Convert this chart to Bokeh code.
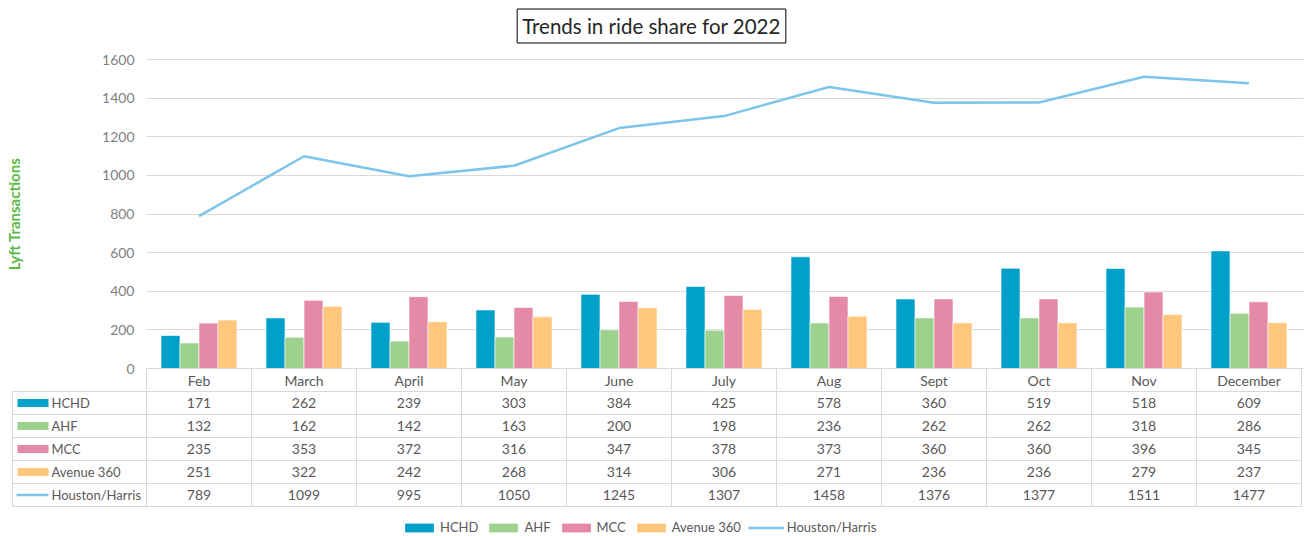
from bokeh.plotting import figure
from bokeh.models import Range1d, FixedTicker, ColumnDataSource, Legend, LegendItem, Label
from bokeh.transform import dodge
from bokeh.embed import file_html
from bokeh.resources import INLINE
from bokeh.core.properties import value

# ---------------- data ----------------
months = ["Feb", "March", "April", "May", "June", "July", "Aug", "Sept", "Oct", "Nov", "December"]
hchd = [171, 262, 239, 303, 384, 425, 578, 360, 519, 518, 609]
ahf = [132, 162, 142, 163, 200, 198, 236, 262, 262, 318, 286]
mcc = [235, 353, 372, 316, 347, 378, 373, 360, 360, 396, 345]
avenue360 = [251, 322, 242, 268, 314, 306, 271, 236, 236, 279, 237]
houston_harris = [789, 1099, 995, 1050, 1245, 1307, 1458, 1376, 1377, 1511, 1477]
series_names = ["HCHD", "AHF", "MCC", "Avenue 360", "Houston/Harris"]
y_ticks = [0, 200, 400, 600, 800, 1000, 1200, 1400, 1600]
title_text = "Trends in ride share for 2022"
y_label = "Lyft Transactions"

# ---------------- styles / layout constants (pixels) ----------------
FONT_NAME = "Lato"
FONT = value(FONT_NAME)
colors = ["#00A0C8", "#9DD28E", "#E48AA7", "#FFC77E", "#7DC5EA"]
GRID = "#D9D9D9"
TXT = "#595959"
TICK_TXT = "#7F7F7F"
W, H = 1304, 536
PLOT_LEFT = 146          # pixel x of first category boundary
PX = 105.0               # pixels per category
ZERO_Y, TOP_Y = 368, 59  # pixel y of value 0 and of the top tick
U = (y_ticks[-1] - y_ticks[0]) / (ZERO_Y - TOP_Y)   # data units per pixel (y)
ROW = 23 * U             # table row height in data units
n = len(months)
centers = [i + 0.5 for i in range(n)]
bw = 19.0 / PX           # bar width in category units

src = ColumnDataSource(dict(x=centers, hchd=hchd, ahf=ahf, mcc=mcc,
                            avenue=avenue360, houston=houston_harris))

p = figure(width=W, height=H,
           x_range=Range1d(-PLOT_LEFT / PX, (W - PLOT_LEFT) / PX),
           y_range=Range1d(-(H - ZERO_Y) * U, ZERO_Y * U),
           min_border_left=0, min_border_right=0, min_border_top=0, min_border_bottom=0,
           output_backend="svg", toolbar_location=None)
p.outline_line_color = None
p.title.visible = False
p.xgrid.visible = False
p.ygrid.ticker = FixedTicker(ticks=y_ticks)
p.ygrid.grid_line_color = GRID
p.ygrid.grid_line_width = 1
try:
    p.ygrid.cross_bounds = (0, n + 2 / PX)
    has_cross = True
except Exception:
    has_cross = False
if not has_cross:
    # hide grid lines in the label column
    p.quad(left=[-PLOT_LEFT / PX], right=[-0.3 / PX], bottom=[-2 * U], top=[y_ticks[-1] + 2 * U],
           fill_color="white", line_color=None)

# ---------------- chart ----------------
bar_cols = ["hchd", "ahf", "mcc", "avenue"]
for k, col in enumerate(bar_cols):
    p.vbar(x=dodge("x", (k - 1.5) * bw, range=p.x_range), top=col, width=bw, source=src,
           fill_color=colors[k], line_color="white", line_width=0.6)
p.line(x="x", y="houston", source=src, line_color=colors[4], line_width=2.5)

yax = p.yaxis[0]
yax.fixed_location = 0
yax.bounds = (y_ticks[0], y_ticks[-1])
yax.ticker = FixedTicker(ticks=y_ticks)
yax.axis_line_color = None
yax.major_tick_line_color = None
yax.major_tick_out = 0
yax.major_tick_in = 0
yax.minor_tick_line_color = None
yax.minor_tick_out = 0
yax.minor_tick_in = 0
yax.major_label_standoff = 12
yax.major_label_text_font = FONT_NAME
yax.major_label_text_font_size = "14px"
yax.major_label_text_color = TICK_TXT
yax.axis_label = y_label
yax.axis_label_text_font = FONT_NAME
yax.axis_label_text_font_size = "15px"
yax.axis_label_text_font_style = "bold"
yax.axis_label_text_color = "#5BB946"
yax.axis_label_standoff = 76

xax = p.xaxis[0]
xax.fixed_location = 0
xax.bounds = (0, n)
xax.ticker = FixedTicker(ticks=centers, minor_ticks=list(range(n + 1)))
xax.major_label_overrides = {c: m for c, m in zip(centers, months)}
xax.major_tick_line_color = None
xax.major_tick_out = 0
xax.major_tick_in = 0
xax.minor_tick_out = 22
xax.minor_tick_in = 0
xax.minor_tick_line_color = GRID
xax.axis_line_color = GRID
xax.major_label_standoff = -19
xax.major_label_text_font = FONT_NAME
xax.major_label_text_font_size = "14px"
xax.major_label_text_color = TXT

# title box
title = Label(x=(651 - PLOT_LEFT) / PX, y=(ZERO_Y - 25.5) * U,
              text=title_text, text_align="center", text_baseline="middle",
              text_font=FONT_NAME, text_font_size="20.5px", text_color="#262626",
              border_line_color="black", border_line_width=1, padding=5,
              background_fill_color="white")
p.add_layout(title)

# ---------------- data table ----------------
x0 = -(PLOT_LEFT - 12) / PX
rows = len(series_names)
hy = [-(k + 1) * ROW for k in range(rows + 1)]
p.segment(x0=[x0] * len(hy), y0=hy, x1=[n] * len(hy), y1=hy, line_color=GRID, line_width=1)
vx = [x0] + list(range(n + 1))
p.segment(x0=vx, y0=[hy[0]] * len(vx), x1=vx, y1=[hy[-1]] * len(vx), line_color=GRID, line_width=1)

row_y = [-(r + 1.5) * ROW for r in range(rows)]
all_series = [hchd, ahf, mcc, avenue360, houston_harris]
tx, ty, tt = [], [], []
for r, vals in enumerate(all_series):
    for i, v in enumerate(vals):
        tx.append(centers[i])
        ty.append(row_y[r])
        tt.append(str(v))
p.text(x=tx, y=ty, text=tt, text_align="center", text_baseline="middle",
       text_font=FONT, text_font_size="14px", text_color=TXT)

p.text(x=[(51 - PLOT_LEFT) / PX] * rows, y=row_y, text=series_names, text_align="left",
       text_baseline="middle", text_font=FONT, text_font_size="13px", text_color=TXT)

sw_x = (32.5 - PLOT_LEFT) / PX
sw_renderers = []
for k in range(4):
    r = p.rect(x=[sw_x], y=[row_y[k]], width=31, height=8, width_units="screen",
               height_units="screen", fill_color=colors[k], line_color=None)
    sw_renderers.append(r)
rl = p.line(x=[(16 - PLOT_LEFT) / PX, (48 - PLOT_LEFT) / PX], y=[row_y[4], row_y[4]],
            line_color=colors[4], line_width=2.5)
sw_renderers.append(rl)

legend = Legend(items=[LegendItem(label=nm, renderers=[rr]) for nm, rr in zip(series_names, sw_renderers)],
                orientation="horizontal", location=(401, 1),
                glyph_width=36, glyph_height=11, spacing=7, label_standoff=3,
                padding=0, margin=0, border_line_color=None, background_fill_alpha=0,
                label_text_font=FONT_NAME, label_text_font_size="13px", label_text_color=TXT)
p.add_layout(legend)

open("out.html", "w").write(file_html(p, INLINE))
